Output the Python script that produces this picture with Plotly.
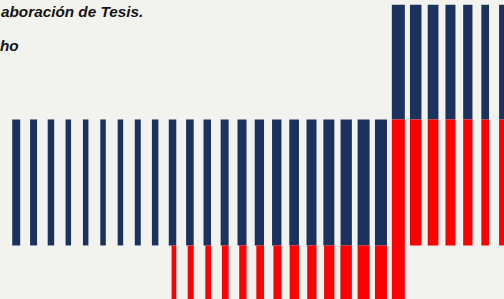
import plotly.graph_objects as go

# bar index positions
positions = [1, 2, 3, 4, 5, 6, 7, 8, 9, 10, 11, 12, 13, 14, 15, 16, 17, 18, 19, 20,
             21, 22, 23, 24, 25, 26, 27, 28, 29]

# blue segment (low, high)
blue_low = [0, 0, 0, 0, 0, 0, 0, 0, 0, 0, 0, 0, 0, 0, 0, 0, 0, 0, 0, 0,
            0, 0, 100, 100, 100, 100, 100, 100, 100]
blue_high = [100, 100, 100, 100, 100, 100, 100, 100, 100, 100, 100, 100, 100, 100, 100,
             100, 100, 100, 100, 100, 100, 100, 191, 191, 191, 191, 191, 191, 191]

# red segment (low, high); None = no red segment
red_low = [None, None, None, None, None, None, None, None, None, -60, -60, -60, -60, -60,
           -60, -60, -60, -60, -60, -60, -60, -60, -60, 0, 0, 0, 0, 0, 0]
red_high = [None, None, None, None, None, None, None, None, None, 0, 0, 0, 0, 0,
            0, 0, 0, 0, 0, 0, 0, 0, 100, 100, 100, 100, 100, 100, 100]

# bar thickness (as read, in pixels of the original)
blue_thick = [8, 7, 6.5, 5.5, 5.5, 5.5, 5.5, 6, 6.5, 7.5, 7.6, 7.5, 8, 9, 9.3, 9.4, 9.7,
              10, 11, 11.3, 12, 12, 13, 11.5, 10.7, 10, 9.3, 7.7, 7]
red_thick = [8, 7, 6.5, 5.5, 5.5, 5.5, 5.5, 6, 6.5, 4.7, 6, 5.7, 6.7, 7.3, 7.7, 8, 9.3,
             9.3, 10.3, 11.5, 12, 12, 13, 11.5, 10.7, 10, 9.3, 7.7, 7]

text_line1 = "aboración de Tesis."
text_line2 = "ho"

W, H = 504, 299
PX_PER_UNIT = 17.37
x0_px = 16.2
x_range = [1 - x0_px / PX_PER_UNIT, 1 + (W - x0_px) / PX_PER_UNIT]

bw = [t / PX_PER_UNIT for t in blue_thick]
rw = [t / PX_PER_UNIT for t in red_thick]
r_off = [b / 2 - r for b, r in zip(bw, rw)]

blue_len = [h - l for h, l in zip(blue_high, blue_low)]
red_len = [None if h is None else h - l for h, l in zip(red_high, red_low)]

BLUE = "#1c325e"
RED = "#fe0000"
BG = "#f2f2ee"

fig = go.Figure()
fig.add_trace(go.Bar(x=positions, y=blue_len, base=blue_low, width=bw,
                     marker=dict(color=BLUE, line=dict(width=0)), hoverinfo="skip"))
fig.add_trace(go.Bar(x=positions, y=red_len, base=red_low, width=rw, offset=r_off,
                     marker=dict(color=RED, line=dict(width=0)), hoverinfo="skip"))

font = dict(family="Liberation Sans, Arial, sans-serif", size=15.3, color="#151515",
            weight="bold", style="italic")
fig.update_layout(
    width=W, height=H,
    margin=dict(l=0, r=0, t=0, b=0),
    paper_bgcolor=BG, plot_bgcolor=BG,
    barmode="overlay",
    showlegend=False,
    xaxis=dict(range=x_range, visible=False, fixedrange=True),
    yaxis=dict(range=[-42.5, 194.8], visible=False, fixedrange=True),
    annotations=[
        dict(text=text_line1, xref="paper", yref="paper", x=145 / W, y=1 - 12 / H,
             xanchor="right", yanchor="middle", showarrow=False, font=font),
        dict(text=text_line2, xref="paper", yref="paper", x=21 / W, y=1 - 45 / H,
             xanchor="right", yanchor="middle", showarrow=False, font=font),
    ],
)

fig.write_html("out.html", config={"displayModeBar": False},
               post_script="document.body.style.margin='0';"
                           "document.body.style.background='" + BG + "';")
